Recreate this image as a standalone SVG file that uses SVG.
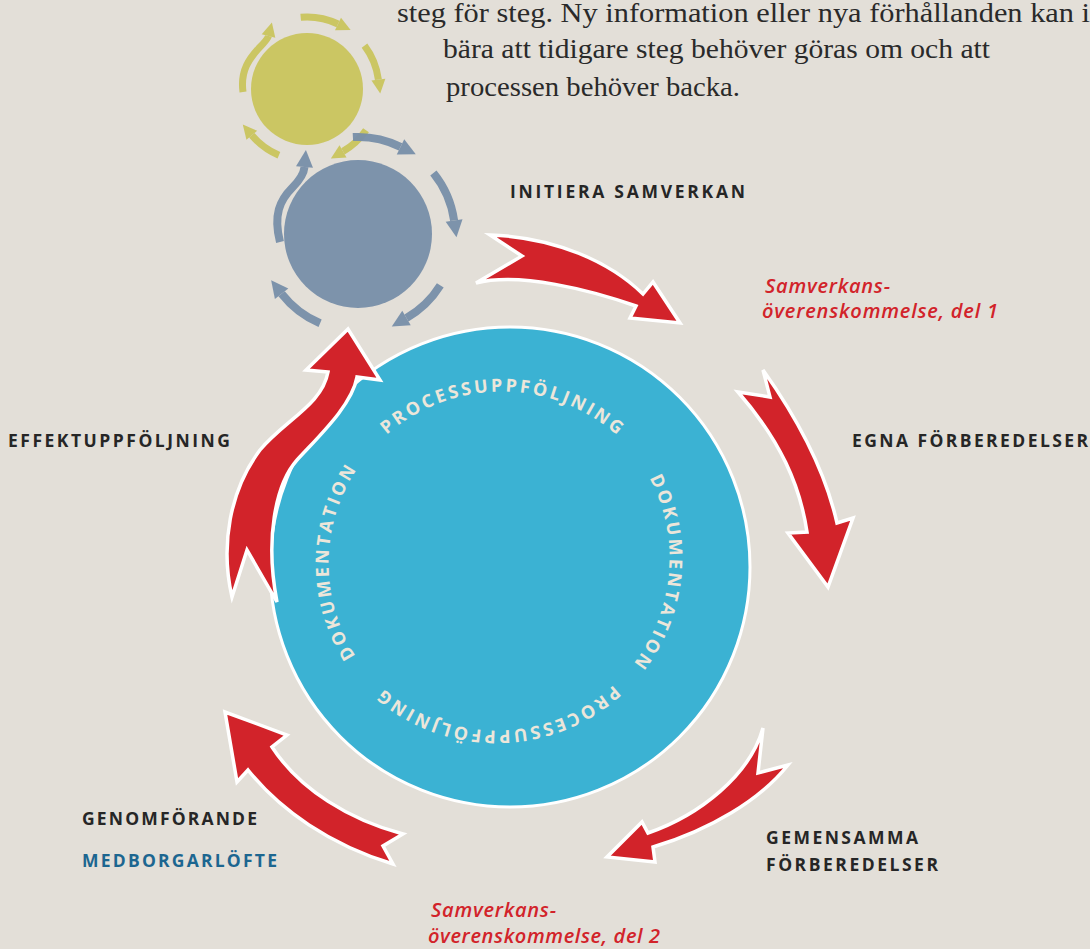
<svg xmlns="http://www.w3.org/2000/svg" width="1090" height="949" viewBox="0 0 1090 949">
<style>
.lbl{font-family:"Open Sans","Liberation Sans",sans-serif;font-weight:700;font-size:17.5px;fill:#262626}
.red{font-family:"Open Sans","Liberation Sans",sans-serif;font-weight:600;font-style:italic;font-size:20px;fill:#d2232a}
.para{font-family:"Liberation Serif",serif;font-size:28px;fill:#2a2a2a}
.ctext{font-family:"Open Sans","Liberation Sans",sans-serif;font-weight:700;font-size:18px;fill:#ece6da;letter-spacing:2.8px}
.bluearc{fill:none;stroke:#788fa9;stroke-width:8;marker-end:url(#hb)}
.yelarc{fill:none;stroke:#c9c45a;stroke-width:7;marker-end:url(#hy)}
.rarrow{fill:#d2232a;stroke:#ffffff;stroke-width:3.5;stroke-linejoin:miter}
</style>
<defs>
<marker id="hb" markerUnits="userSpaceOnUse" markerWidth="20" markerHeight="20" refX="0" refY="10" orient="auto" overflow="visible"><path d="M0,1.5 L17,10 L0,18.5 Z" fill="#788fa9"/></marker>
<marker id="hy" markerUnits="userSpaceOnUse" markerWidth="20" markerHeight="20" refX="0" refY="10" orient="auto" overflow="visible"><path d="M0,3 L14,10 L0,17 Z" fill="#c9c45a"/></marker>
<path id="ring" d="M376.7,682.6 A173,172 0 0 1 621.3,439.4 A173,172 0 0 1 376.7,682.6"/>
</defs>
<rect width="1090" height="949" fill="#e3dfd8"/>

<g id="intro-text">
<text class="para" x="397" y="22" textLength="693" lengthAdjust="spacingAndGlyphs">steg för steg. Ny information eller nya förhållanden kan i</text>
<text class="para" x="443" y="58" textLength="547" lengthAdjust="spacingAndGlyphs">bära att tidigare steg behöver göras om och att</text>
<text class="para" x="446" y="96" textLength="294" lengthAdjust="spacingAndGlyphs">processen behöver backa.</text>
</g>

<g id="yellow-cycle" opacity="0.92">
<circle cx="307" cy="89" r="56" fill="#c9c45a"/>
<path class="yelarc" d="M300.7,17.3 A72,72 0 0 1 338,24"/>
<path class="yelarc" d="M364.5,45.7 A72,72 0 0 1 378.4,79.6"/>
<path class="yelarc" d="M366,130.3 A72,72 0 0 1 343,151.4"/>
<path class="yelarc" d="M278.9,155.3 A72,72 0 0 1 251.8,135.3"/>
<path class="yelarc" d="M243,92 C240,70 250,58 259,48 C265,42 268,38 268.5,36"/>
</g>

<g id="blue-cycle" opacity="0.95">
<circle cx="358" cy="234" r="74" fill="#788fa9"/>
<path class="bluearc" d="M352.9,137.1 A97,97 0 0 1 400.5,146.8"/>
<path class="bluearc" d="M433.4,173 A97,97 0 0 1 454.1,220.5"/>
<path class="bluearc" d="M440.3,285.4 A97,97 0 0 1 406.5,318"/>
<path class="bluearc" d="M320.1,323.3 A97,97 0 0 1 281.6,293.7"/>
<path class="bluearc" d="M280,242 C273,215 280,200 292,188 C300,180 304,173 304.5,167"/>
</g>

<g id="main-circle">
<circle cx="510" cy="567" r="240" fill="#3bb2d3" stroke="#ffffff" stroke-width="3"/>
<text class="ctext" text-anchor="middle"><textPath href="#ring" startOffset="12.5%">DOKUMENTATION</textPath></text>
<text class="ctext" text-anchor="middle"><textPath href="#ring" startOffset="37.8%">PROCESSUPPFÖLJNING</textPath></text>
<text class="ctext" text-anchor="middle"><textPath href="#ring" startOffset="63.8%">DOKUMENTATION</textPath></text>
<text class="ctext" text-anchor="middle"><textPath href="#ring" startOffset="87.5%">PROCESSUPPFÖLJNING</textPath></text>
</g>

<g id="connectors">
<path class="rarrow" d="M490,235 C555,237 610,262 643,294 L653,282 L680,323 L630,318 L636,306 C590,290 520,272 476,283 L522,256 Z"/>
<path class="rarrow" d="M763,370 C795,415 825,470 837,523 L853,518 L828,587 L788,533 L807,532 C800,485 780,440 738,392 L770,397 Z"/>
<path class="rarrow" d="M763,728 C750,775 700,815 648,833 L642,822 L607,857 L655,862 L653,847 C710,830 760,800 788,765 L758,773 Z"/>
<path class="rarrow" d="M403,834 C350,820 300,790 272,747 L287,735 L225,712 L237,782 L248,770 C280,810 330,845 393,864 L383,846 Z"/>
<path class="rarrow" d="M328,372 L306,370 L348,329 L380,380 L357,377 C352,405 320,435 297,460 C275,485 265,540 277,602 L247,550 L232,597 C220,545 230,490 260,450 C285,420 322,405 328,372 Z"/>
</g>

<g id="label-initiera"><text class="lbl" x="510" y="198" textLength="235" lengthAdjust="spacing">INITIERA SAMVERKAN</text></g>
<g id="label-overens1">
<text class="red" x="765" y="293" textLength="125" lengthAdjust="spacing">Samverkans-</text>
<text class="red" x="762" y="318" textLength="236" lengthAdjust="spacing">överenskommelse, del 1</text>
</g>
<g id="label-egna"><text class="lbl" x="852" y="447" textLength="236" lengthAdjust="spacing">EGNA FÖRBEREDELSER</text></g>
<g id="label-effekt"><text class="lbl" x="8" y="447" textLength="222" lengthAdjust="spacing">EFFEKTUPPFÖLJNING</text></g>
<g id="label-genomforande">
<text class="lbl" x="82" y="825" textLength="175" lengthAdjust="spacing">GENOMFÖRANDE</text>
<text class="lbl" x="82" y="867" textLength="195" lengthAdjust="spacing" style="fill:#1c6690">MEDBORGARLÖFTE</text>
</g>
<g id="label-gemensamma">
<text class="lbl" x="766" y="844" textLength="152" lengthAdjust="spacing">GEMENSAMMA</text>
<text class="lbl" x="766" y="871" textLength="172" lengthAdjust="spacing">FÖRBEREDELSER</text>
</g>
<g id="label-overens2">
<text class="red" x="431" y="917" textLength="125" lengthAdjust="spacing">Samverkans-</text>
<text class="red" x="428" y="943" textLength="232" lengthAdjust="spacing">överenskommelse, del 2</text>
</g>
</svg>
